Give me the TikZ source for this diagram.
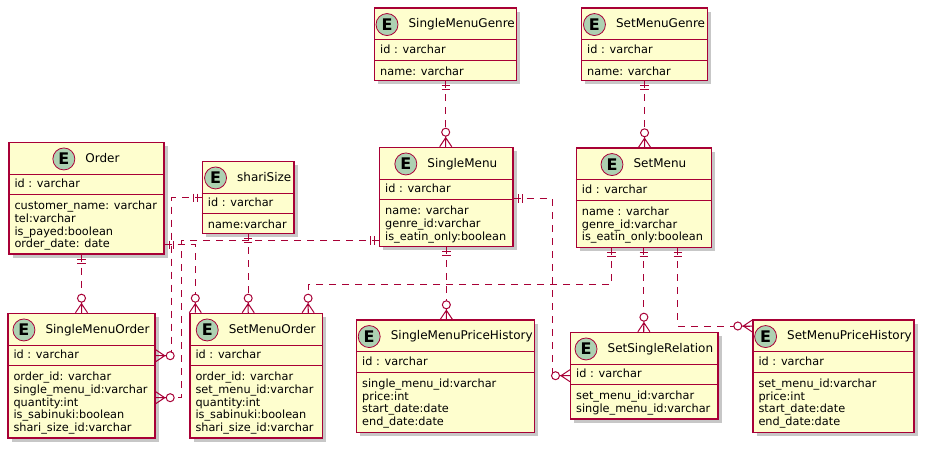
\documentclass[tikz,border=0pt]{standalone}
\usepackage{fontspec}
\setmainfont{DejaVu Sans}
\usetikzlibrary{positioning,shadows,decorations.markings}
\definecolor{umlred}{HTML}{A80036}
\definecolor{umlfill}{HTML}{FEFECE}
\definecolor{spotfill}{HTML}{ADD1B2}
\tikzstyle{entity}=[draw=umlred, line width=1.4pt, fill=umlfill, anchor=north west, inner sep=0pt,
  drop shadow={shadow xshift=3.5pt, shadow yshift=-3.5pt, fill=black, opacity=0.22}]
\tikzstyle{sepline}=[draw=umlred, line width=1pt]
\tikzstyle{etitle}=[inner sep=0pt, text height=9pt, text depth=2.5pt, font=\fontsize{12}{14}\selectfont]
\tikzstyle{ebadge}=[circle, draw=umlred, line width=0.8pt, fill=spotfill, minimum size=22pt, inner sep=0pt,
  font=\fontsize{16}{16}\selectfont\bfseries]
\tikzstyle{eattr}=[inner sep=0pt, align=left, font=\fontsize{11.3}{12.6}\selectfont]
\tikzstyle{rel}=[umlred, line width=1pt, dash pattern=on 7pt off 6pt, postaction={decorate},
  decoration={markings,
    mark=at position 4.5pt with {\draw[solid, line width=1.1pt] (0,-4.2pt) -- (0,4.2pt);},
    mark=at position 8.5pt with {\draw[solid, line width=1.1pt] (0,-4.2pt) -- (0,4.2pt);},
    mark=at position 1 with {\draw[solid, line width=1pt] (-9pt,0) -- (0,6pt) (-9pt,0) -- (0,-6pt) (-10.5pt,0) -- (0,0);
      \draw[solid, line width=1pt, fill=white] (-14.5pt,0) circle (4pt);}}]
% name, top left corner, width, height, title, attributes
\newcommand{\umlentity}[6]{%
  \node[entity, minimum width=#3pt, minimum height=#4pt] (#1) at (#2) {};
  \draw[sepline] ([yshift=-32.5pt]#1.north west) -- ([yshift=-32.5pt]#1.north east);
  \draw[sepline] ([yshift=-53pt]#1.north west) -- ([yshift=-53pt]#1.north east);
  \node[etitle] (#1-t) at ([xshift=16pt,yshift=-17.25pt]#1.north) {#5};
  \node[ebadge, left=10pt of #1-t] (#1-e) {E};
  \node[eattr, anchor=base west] (#1-id) at ([xshift=6pt,yshift=-46pt]#1.north west) {id : varchar};
  \node[eattr, anchor=north west] (#1-a) at ([xshift=6pt,yshift=-59.4pt]#1.north west) {#6};
}

\begin{document}
\begin{tikzpicture}[x=1pt, y=-1pt]
  \useasboundingbox (0,0) rectangle (926,450);

  % entities
  \umlentity{smg}{374,7.3}{142}{72.7}{SingleMenuGenre}{name: varchar}
  \umlentity{setg}{581,7.3}{125.7}{72.7}{SetMenuGenre}{name: varchar}
  \umlentity{order}{8.3,141.7}{155}{111.6}{Order}{customer\_name: varchar\\tel:varchar\\is\_payed:boolean\\order\_date: date}
  \umlentity{shari}{201.7,160.7}{91.6}{72}{shariSize}{name:varchar}
  \umlentity{sm}{379,146.7}{133.3}{99.3}{SingleMenu}{name: varchar\\genre\_id:varchar\\is\_eatin\_only:boolean}
  \umlentity{setm}{575.7,147.3}{135}{99.4}{SetMenu}{name : varchar\\genre\_id:varchar\\is\_eatin\_only:boolean}
  \umlentity{smo}{7.3,312.7}{147}{124.6}{SingleMenuOrder}{order\_id: varchar\\single\_menu\_id:varchar\\quantity:int\\is\_sabinuki:boolean\\shari\_size\_id:varchar}
  \umlentity{setmo}{189.3,312.7}{132.4}{124.6}{SetMenuOrder}{order\_id: varchar\\set\_menu\_id:varchar\\quantity:int\\is\_sabinuki:boolean\\shari\_size\_id:varchar}
  \umlentity{smph}{356,319.3}{178}{112.4}{SingleMenuPriceHistory}{single\_menu\_id:varchar\\price:int\\start\_date:date\\end\_date:date}
  \umlentity{ssr}{570,331.7}{147.3}{86.6}{SetSingleRelation}{set\_menu\_id:varchar\\single\_menu\_id:varchar}
  \umlentity{setmph}{752.3,319.3}{161}{112.4}{SetMenuPriceHistory}{set\_menu\_id:varchar\\price:int\\start\_date:date\\end\_date:date}

  % relations, one side first
  \draw[rel] (smg.south) -- (smg.south |- sm.north);
  \draw[rel] (setg.south) -- (setg.south |- setm.north);
  \draw[rel] (order.south -| smo.north) -- (smo.north);
  \draw[rel] ([yshift=-37pt]shari.north west) -- ++(-30pt,0) |- ([yshift=20pt]smo.east);
  \draw[rel] ([yshift=7pt]sm.south west) -| ([xshift=26pt,yshift=-22pt]smo.east) -- ([yshift=-22pt]smo.east);
  \draw[rel] ([yshift=10pt]order.south east) -| ([xshift=6pt]setmo.north west);
  \draw[rel] (shari.south) -- (shari.south |- setmo.north);
  \draw[rel] ([xshift=-32.5pt]setm.south) -- ++(0,-36.6pt) -| ([xshift=-15pt]setmo.north east);
  \draw[rel] (sm.south) -- (sm.south |- smph.north);
  \draw[rel] ([yshift=-51.6pt]sm.north east) -| ([xshift=-18pt]ssr.west) -- (ssr.west);
  \draw[rel] (setm.south) -- (setm.south |- ssr.north);
  \draw[rel] ([xshift=34pt]setm.south) |- ([yshift=-6.7pt]setmph.north west);
\end{tikzpicture}
\end{document}
